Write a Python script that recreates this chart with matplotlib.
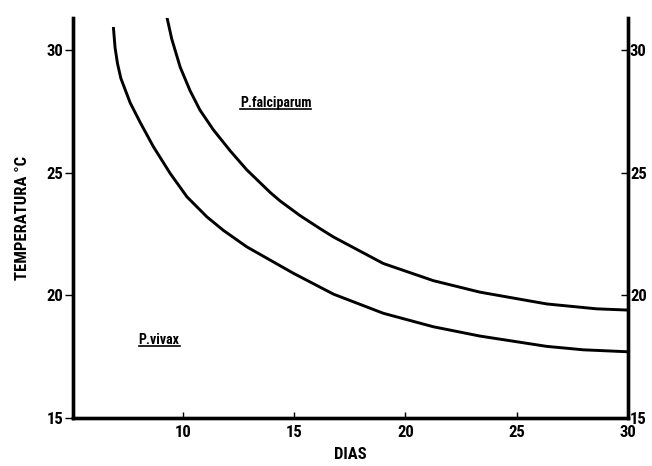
import matplotlib.pyplot as plt
from matplotlib import font_manager as fm
from matplotlib.lines import Line2D

# Data
vivax_dias = [6.87, 6.94, 7.05, 7.2, 7.62, 8.07, 8.67, 9.42, 10.17, 11.07, 11.81, 12.86,
              14.96, 16.76, 19.0, 21.25, 23.35, 26.35, 28.0, 30.0]
vivax_temp = [30.88, 30.1, 29.45, 28.85, 27.85, 27.05, 26.05, 24.97, 24.02, 23.2, 22.65, 21.98,
              20.9, 20.05, 19.27, 18.72, 18.34, 17.92, 17.78, 17.7]

falc_dias = [9.24, 9.49, 9.87, 10.31, 10.76, 11.36, 12.11, 12.86, 13.91, 14.36, 15.26,
             16.16, 16.76, 19.0, 21.25, 23.35, 26.35, 28.6, 30.0]
falc_temp = [31.47, 30.45, 29.3, 28.35, 27.55, 26.75, 25.9, 25.12, 24.2, 23.85, 23.25,
             22.72, 22.38, 21.3, 20.6, 20.13, 19.65, 19.45, 19.4]

xticks = [10, 15, 20, 25, 30]
yticks = [15, 20, 25, 30]


# find a bold, condensed sans font if one is installed
def num(v, table):
    return table.get(v, 400) if isinstance(v, str) else v

prefs = ['Liberation Sans Narrow', 'Roboto Condensed', 'Noto Sans Condensed',
         'Open Sans Condensed', 'DejaVu Sans Condensed', 'Noto Sans', 'DejaVu Sans',
         'Roboto', 'Open Sans', 'Lato', 'Inter']
font_file = None
for name in prefs:
    for f in fm.fontManager.ttflist:
        if (f.name == name and num(f.weight, fm.weight_dict) >= 600
                and num(f.stretch, fm.stretch_dict) < 500 and f.style == 'normal'):
            font_file = f.fname
            break
    if font_file:
        break


def fp(size):
    if font_file:
        return fm.FontProperties(fname=font_file, size=size)
    return fm.FontProperties(family='DejaVu Sans', weight='bold', size=size - 1.5)


fig = plt.figure(figsize=(6.52, 4.66), dpi=100)
ax = fig.add_axes([0.112, 0.103, 0.851, 0.858])

ax.plot(vivax_dias, vivax_temp, color='black', lw=2.1, solid_joinstyle='round')
ax.plot(falc_dias, falc_temp, color='black', lw=2.1, solid_joinstyle='round')

ax.set_xlim(5.05, 30)
ax.set_ylim(15, 31.3)

# right-hand temperature scale
ax2 = ax.twinx()
ax2.set_ylim(ax.get_ylim())
ax2.set_yticks(yticks)

for a in (ax, ax2):
    a.spines['top'].set_visible(False)
    for s in ['left', 'bottom', 'right']:
        a.spines[s].set_linewidth(2.4)
        a.spines[s].set_capstyle('projecting')

ax.set_xticks(xticks)
ax.set_yticks(yticks)
ax.tick_params(axis='x', direction='in', length=4, width=1, pad=5)
ax.tick_params(axis='y', direction='out', length=6, width=1, pad=1)
ax2.tick_params(axis='y', direction='in', length=5, width=1, pad=1.5)

for lab in ax.get_xticklabels() + ax.get_yticklabels():
    lab.set_fontproperties(fp(12))
for lab in ax2.get_yticklabels():
    lab.set_fontproperties(fp(12))

ax.set_xlabel('DIAS', fontproperties=fp(12), labelpad=5)
ax.set_ylabel('TEMPERATURA °C', fontproperties=fp(12), labelpad=12)

t1 = ax.text(12.55, 27.84, 'P.falciparum', fontproperties=fp(10), va='center')
t2 = ax.text(8.0, 18.16, 'P.vivax', fontproperties=fp(10), va='center')

# underline the species labels
fig.canvas.draw()
inv = fig.transFigure.inverted()
for t in (t1, t2):
    bb = t.get_window_extent().transformed(inv)
    fig.add_artist(Line2D([bb.x0, bb.x1], [bb.y0 + 0.003, bb.y0 + 0.003],
                          transform=fig.transFigure, color='black', lw=1.2))

fig.savefig('out.png', dpi=100)
